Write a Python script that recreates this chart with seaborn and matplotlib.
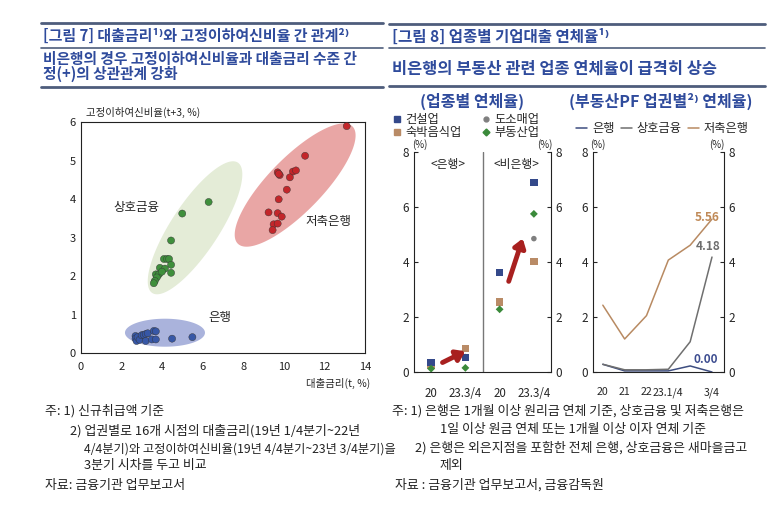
import numpy as np
import pandas as pd
import seaborn as sns
import matplotlib.pyplot as plt
from matplotlib.lines import Line2D

sns.set_style("white")
plt.rcParams['font.family'] = ['Noto Sans CJK KR', 'DejaVu Sans']
plt.rcParams['axes.unicode_minus'] = False

# ---- [그림 7] 대출금리(t) vs 고정이하여신비율(t+3)
bank_rate = [2.70, 2.70, 2.75, 2.80, 2.90, 3.00, 3.10, 3.20, 3.20, 3.30, 3.50, 3.60, 3.70, 3.70, 4.50, 5.50]
bank_npl = [0.45, 0.38, 0.32, 0.42, 0.35, 0.47, 0.48, 0.50, 0.32, 0.52, 0.36, 0.58, 0.57, 0.36, 0.38, 0.42]
mutual_rate = [6.30, 5.00, 4.45, 4.10, 4.25, 4.35, 4.45, 3.90, 4.15, 4.45, 3.70, 3.85, 3.75, 3.65, 3.60, 4.00]
mutual_npl = [3.93, 3.63, 2.93, 2.45, 2.45, 2.45, 2.30, 2.22, 2.20, 2.09, 2.05, 2.05, 1.97, 1.88, 1.82, 2.12]
savings_rate = [13.10, 11.05, 9.70, 9.80, 9.75, 10.45, 10.60, 10.30, 10.15, 9.75, 9.25, 9.70, 9.90, 9.50, 9.70, 9.45]
savings_npl = [5.90, 5.13, 4.70, 4.63, 4.66, 4.72, 4.75, 4.57, 4.25, 4.00, 3.66, 3.64, 3.55, 3.35, 3.37, 3.20]

# ---- [그림 8] 업종별 연체율 (은행 20, 은행 23.3/4, 비은행 20, 비은행 23.3/4)
ind_slots = ['은행 20', '은행 23.3/4', '비은행 20', '비은행 23.3/4']
ind_ticklabels = ['20', '23.3/4', '20', '23.3/4']
construction = [0.35, 0.52, 3.62, 6.90]
lodging = [0.25, 0.85, 2.55, 4.03]
wholesale = [0.32, 0.56, 2.50, 4.85]
realestate = [0.12, 0.15, 2.28, 5.75]

# ---- 부동산PF 업권별 연체율
pf_periods = ['20', '21', '22', '23.1/4', '23.2/4', '23.3/4']
pf_ticklabels = ['20', '21', '22', '23.1/4', '', '3/4']
pf_bank = [0.28, 0.04, 0.04, 0.04, 0.22, 0.00]
pf_mutual = [0.28, 0.08, 0.08, 0.10, 1.10, 4.18]
pf_savings = [2.43, 1.20, 2.05, 4.07, 4.61, 5.56]

W, H = 782, 517
def fx(px):
    return px / W
def fy(py):
    return 1 - py / H

TITLE = '#2f4b9c'
RULE = '#4e5d7c'

fig = plt.figure(figsize=(7.82, 5.17), dpi=100)

# header rules and titles
def rule(x0, x1, y, lw):
    fig.add_artist(Line2D([fx(x0), fx(x1)], [fy(y), fy(y)], color=RULE, lw=lw, transform=fig.transFigure))

rule(41, 383, 23, 2.0)
rule(41, 383, 48, 1.2)
rule(41, 383, 87, 2.0)
rule(389, 765, 24, 2.0)
rule(389, 765, 48, 1.2)
rule(389, 765, 86, 2.0)

fig.text(fx(43), fy(36), '[그림 7] 대출금리¹⁾와 고정이하여신비율 간 관계²⁾', color=TITLE,
         fontsize=10.8, fontweight='bold', va='center')
fig.text(fx(43), fy(59), '비은행의 경우 고정이하여신비율과 대출금리 수준 간', color=TITLE,
         fontsize=10.6, fontweight='bold', va='center')
fig.text(fx(43), fy(74), '정(+)의 상관관계 강화', color=TITLE,
         fontsize=10.6, fontweight='bold', va='center')
fig.text(fx(392), fy(37), '[그림 8] 업종별 기업대출 연체율¹⁾', color=TITLE,
         fontsize=11.2, fontweight='bold', va='center')
fig.text(fx(392), fy(69), '비은행의 부동산 관련 업종 연체율이 급격히 상승', color=TITLE,
         fontsize=11.8, fontweight='bold', va='center')
fig.text(fx(472), fy(101), '(업종별 연체율)', color=TITLE, fontsize=11.5, fontweight='bold',
         ha='center', va='center')
fig.text(fx(661), fy(101), '(부동산PF 업권별²⁾ 연체율)', color=TITLE, fontsize=11.5,
         fontweight='bold', ha='center', va='center')

# ================= scatter =================
ax1 = fig.add_axes([fx(80.7), fy(353.3), fx(365) - fx(80.7), fy(122.3) - fy(353.3)])
ax1.set_xlim(0, 14)
ax1.set_ylim(0, 6.0)

def ellipse(ax, cx, cy, a, b, ang, color):
    # a, b, angle given in screen pixels so the shape looks as in the print
    c = ax.transData.transform((cx, cy))
    t = np.linspace(0, 2 * np.pi, 200)
    th = np.deg2rad(ang)
    px = c[0] + a * np.cos(t) * np.cos(th) - b * np.sin(t) * np.sin(th)
    py = c[1] + a * np.cos(t) * np.sin(th) + b * np.sin(t) * np.cos(th)
    pts = ax.transData.inverted().transform(np.column_stack([px, py]))
    ax.fill(pts[:, 0], pts[:, 1], color=color, lw=0, zorder=0)

ellipse(ax1, 5.63, 3.26, 78, 24, 56.7, '#e4ecd7')
ellipse(ax1, 10.56, 4.37, 82, 27, 45.7, '#e9a6a5')
ellipse(ax1, 4.15, 0.535, 40, 14, 0, '#aab3dc')

sc = pd.DataFrame({
    'rate': bank_rate + mutual_rate + savings_rate,
    'npl': bank_npl + mutual_npl + savings_npl,
    'sector': ['은행'] * len(bank_rate) + ['상호금융'] * len(mutual_rate) + ['저축은행'] * len(savings_rate),
})
sns.scatterplot(data=sc, x='rate', y='npl', hue='sector',
                palette={'은행': '#3757a6', '상호금융': '#3f8f3c', '저축은행': '#c3262a'},
                s=26, edgecolor='#333333', linewidth=0.3, legend=False, ax=ax1, zorder=3)
ax1.set_xlabel('')
ax1.set_ylabel('')
ax1.set_xticks(range(0, 15, 2))
ax1.set_yticks(range(0, 7))
ax1.tick_params(direction='in', length=3, labelsize=8, colors='#222222')
ax1.tick_params(axis='x', pad=6)
for s in ax1.spines.values():
    s.set_color('#222222')
    s.set_linewidth(0.8)
ax1.text(2.76, 3.8, '상호금융', fontsize=9, ha='center', va='center')
ax1.text(12.2, 3.42, '저축은행', fontsize=9, ha='center', va='center')
ax1.text(6.86, 0.94, '은행', fontsize=9, ha='center', va='center')
fig.text(fx(143), fy(112), '고정이하여신비율(t+3, %)', fontsize=7.5, ha='center', va='center')
fig.text(fx(338), fy(383), '대출금리(t, %)', fontsize=7.5, ha='center', va='center')

# ================= 업종별 연체율 =================
ax2 = fig.add_axes([fx(414), fy(372), fx(551) - fx(414), fy(152) - fy(372)])
ind = pd.DataFrame({
    'slot': list(range(len(ind_slots))) * 4,
    'rate': wholesale + lodging + construction + realestate,
    'industry': ['도소매업'] * 4 + ['숙박음식업'] * 4 + ['건설업'] * 4 + ['부동산업'] * 4,
})
ind_colors = {'건설업': '#34498a', '도소매업': '#7f7f7f', '숙박음식업': '#b98b66', '부동산업': '#3a8a3a'}
ind_markers = {'건설업': 's', '도소매업': 'o', '숙박음식업': 's', '부동산업': 'D'}
ind_sizes = {'건설업': 28, '도소매업': 16, '숙박음식업': 28, '부동산업': 16}
for name in ['도소매업', '숙박음식업', '건설업', '부동산업']:
    sns.scatterplot(data=ind[ind.industry == name], x='slot', y='rate', color=ind_colors[name],
                    marker=ind_markers[name], s=ind_sizes[name], edgecolor='none',
                    legend=False, ax=ax2, zorder=3)
ax2.set_xlim(-0.5, 3.5)
ax2.set_ylim(0, 8)
ax2.set_xlabel('')
ax2.set_ylabel('')
ax2.set_xticks(range(len(ind_slots)))
ax2.set_xticklabels(ind_ticklabels)
ax2.set_xticks([0.5, 2.5], minor=True)
ax2.tick_params(axis='x', which='major', length=0, labelsize=8.3, pad=11)
ax2.tick_params(axis='x', which='minor', direction='in', length=3)
ax2.set_yticks([0, 2, 4, 6, 8])
ax2.tick_params(axis='y', direction='in', length=3, labelsize=8.5, left=True, right=True,
                labelleft=True, labelright=True)
ax2.spines['top'].set_visible(False)
for s in ['left', 'right', 'bottom']:
    ax2.spines[s].set_color('#222222')
    ax2.spines[s].set_linewidth(0.8)
ax2.axvline(1.5, color='#777777', lw=1.0, zorder=1)
ax2.text(0.5, 7.55, '<은행>', fontsize=8.5, ha='center', va='center')
ax2.text(2.5, 7.55, '<비은행>', fontsize=8.5, ha='center', va='center')
ax2.annotate('', xy=(1.07, 0.80), xytext=(0.26, 0.30),
             arrowprops=dict(arrowstyle='-|>,head_width=0.35,head_length=0.5', color='#a8201f', lw=3.5))
ax2.annotate('', xy=(2.70, 4.95), xytext=(2.24, 3.20),
             arrowprops=dict(arrowstyle='-|>,head_width=0.35,head_length=0.5', color='#a8201f', lw=3.5))
fig.text(fx(420), fy(145), '(%)', fontsize=7, ha='center', va='center')
fig.text(fx(545), fy(145), '(%)', fontsize=7, ha='center', va='center')

ind_handles = [
    Line2D([], [], ls='none', marker='s', color=ind_colors['건설업'], ms=5, label='건설업'),
    Line2D([], [], ls='none', marker='s', color=ind_colors['숙박음식업'], ms=5, label='숙박음식업'),
    Line2D([], [], ls='none', marker='o', color=ind_colors['도소매업'], ms=3.5, label='도소매업'),
    Line2D([], [], ls='none', marker='D', color=ind_colors['부동산업'], ms=3.5, label='부동산업'),
]
fig.legend(handles=ind_handles, ncol=2, loc='upper left', bbox_to_anchor=(fx(386), fy(107)),
           frameon=False, fontsize=8.8, handlelength=0.8, handletextpad=0.3,
           columnspacing=1.6, labelspacing=0.0, borderpad=0)

# ================= 부동산PF 업권별 연체율 =================
ax3 = fig.add_axes([fx(593), fy(372), fx(724) - fx(593), fy(152) - fy(372)])
pf = pd.DataFrame({
    'idx': list(range(len(pf_periods))) * 3,
    'rate': pf_bank + pf_mutual + pf_savings,
    'sector': ['은행'] * 6 + ['상호금융'] * 6 + ['저축은행'] * 6,
})
pf_colors = {'은행': '#3d4d80', '상호금융': '#6f6f6f', '저축은행': '#b88a62'}
sns.lineplot(data=pf, x='idx', y='rate', hue='sector', palette=pf_colors, lw=1.1,
             legend=False, ax=ax3)
ax3.set_xlim(-0.45, 5.55)
ax3.set_ylim(0, 8)
ax3.set_xlabel('')
ax3.set_ylabel('')
ax3.set_xticks(range(len(pf_periods)))
ax3.set_xticklabels(pf_ticklabels)
ax3.set_xticks([0.5, 1.5, 2.5, 3.5, 4.5], minor=True)
ax3.tick_params(axis='x', which='major', length=0, labelsize=7.6, pad=11)
ax3.tick_params(axis='x', which='minor', direction='in', length=3)
ax3.set_yticks([0, 2, 4, 6, 8])
ax3.tick_params(axis='y', direction='in', length=3, labelsize=8.5, left=True, right=True,
                labelleft=True, labelright=True)
ax3.spines['top'].set_visible(False)
for s in ['left', 'right', 'bottom']:
    ax3.spines[s].set_color('#222222')
    ax3.spines[s].set_linewidth(0.8)
ax3.text(5.35, 5.62, f'{pf_savings[-1]:.2f}', color='#c08a58', fontsize=8.5, fontweight='bold',
         ha='right', va='center')
ax3.text(5.38, 4.56, f'{pf_mutual[-1]:.2f}', color='#6e6e6e', fontsize=8.5, fontweight='bold',
         ha='right', va='center')
ax3.text(5.28, 0.47, f'{pf_bank[-1]:.2f}', color='#3d4d90', fontsize=8.5, fontweight='bold',
         ha='right', va='center')
fig.text(fx(598), fy(145), '(%)', fontsize=7, ha='center', va='center')
fig.text(fx(717), fy(145), '(%)', fontsize=7, ha='center', va='center')

pf_handles = [Line2D([], [], color=pf_colors[k], lw=1.1, label=k) for k in ['은행', '상호금융', '저축은행']]
fig.legend(handles=pf_handles, ncol=3, loc='upper left', bbox_to_anchor=(fx(570), fy(116)),
           frameon=False, fontsize=8.8, handlelength=0.9, handletextpad=0.4,
           columnspacing=0.5, borderpad=0)

# ================= footnotes =================
FN = dict(fontsize=9.3, color='#222222', va='center')
fig.text(fx(45), fy(411), '주: 1) 신규취급액 기준', **FN)
fig.text(fx(70), fy(431), '2) 업권별로 16개 시점의 대출금리(19년 1/4분기~22년', **FN)
fig.text(fx(84), fy(449), '4/4분기)와 고정이하여신비율(19년 4/4분기~23년 3/4분기)을',
         fontsize=8.8, color='#222222', va='center')
fig.text(fx(84), fy(466), '3분기 시차를 두고 비교', **FN)
fig.text(fx(45), fy(485), '자료: 금융기관 업무보고서', **FN)

fig.text(fx(392), fy(411), '주: 1) 은행은 1개월 이상 원리금 연체 기준, 상호금융 및 저축은행은', **FN)
fig.text(fx(440), fy(429), '1일 이상 원금 연체 또는 1개월 이상 이자 연체 기준', **FN)
fig.text(fx(415), fy(448), '2) 은행은 외은지점을 포함한 전체 은행, 상호금융은 새마을금고', **FN)
fig.text(fx(440), fy(466), '제외', **FN)
fig.text(fx(395), fy(485), '자료 : 금융기관 업무보고서, 금융감독원', **FN)

fig.savefig('out.png', dpi=100)
